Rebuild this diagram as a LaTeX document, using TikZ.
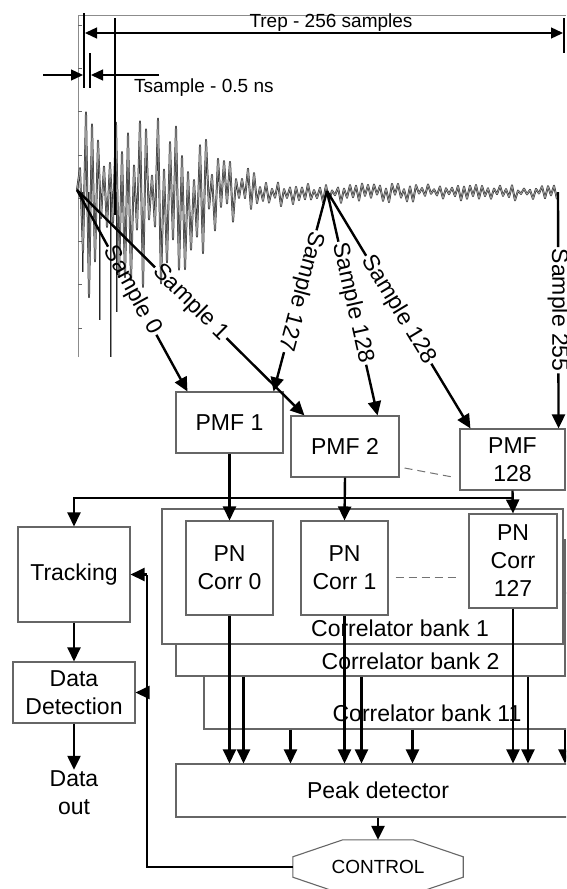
\documentclass[tikz,border=0pt]{standalone}
\usepackage{fontspec}
\setmainfont{Liberation Sans}
\usetikzlibrary{arrows.meta,positioning}

\begin{document}
\begin{tikzpicture}[x=1pt,y=-1pt,
    box/.style={draw=black!60, line width=1.1pt, fill=white, align=center, inner sep=0pt, font=\fontsize{23}{28}\selectfont},
    arr/.style={line width=2.4pt, -{Triangle[length=14pt,width=13pt]}},
    thk/.style={line width=2.4pt},
    dim/.style={line width=1.3pt},
    dimtip/.style={-{Triangle[length=12pt,width=11pt]}},
    wave/.style={draw=black!85, double=black!40, double distance=0.9pt, line width=0.5pt, line join=round},
    smp/.style={font=\fontsize{23}{26}\selectfont, inner sep=1.5pt, sloped, allow upside down},
    toplbl/.style={font=\fontsize{19}{22}\selectfont, inner sep=0pt},
    dsh/.style={draw=black!55, line width=1pt, dash pattern=on 8pt off 5pt}]
    \useasboundingbox (0,0) rectangle (566,889);
    \clip (0,0) rectangle (566,889);

    % Waveform axes
    \draw[black!45, line width=0.8pt] (78,357) -- (78,15) -- (566,15);
    \foreach \k in {0,...,7}
        \draw[black!60, line width=0.8pt] (78,{25+43.3*\k}) -- (82,{25+43.3*\k});

    % Waveform
    \pgfmathsetseed{7}
    \coordinate (s0) at (77,190);
    \coordinate (s127) at (327,191);
    \coordinate (s255) at (558,192);
    \foreach \x/\y in {83/272, 89/275, 100/320, 111/357, 117/312}
        \draw[wave] (\x,192) -- (\x,\y);
    \draw[wave] (s0) \foreach \i in {1,...,160} {
        -- ({77+3*\i},{192+(1.1-2*mod(\i,2))*(7+18*exp(-3*\i/150)+75*exp(-min((3*\i/150)^4,9)))*(0.15+0.85*rnd)})
    };
    \draw[line width=1.5pt] (115,18) -- (115,215);

    % Timing marks
    \draw[dim] (84,13) -- (84,88);
    \draw[dim] (90,53) -- (90,88);
    \draw[dim] (564,18) -- (564,53);
    \draw[dim, {Triangle[length=12pt,width=11pt]}-{Triangle[length=12pt,width=11pt]}] (85,33) -- (563,33);
    \node[toplbl] (trep) at (331,23) {Trep - 256 samples};
    \draw[dim, dimtip] (43,75) -- (83,75);
    \draw[dim, dimtip] (159,75) -- (91,75);
    \node[toplbl, anchor=west] (tsmp) at (134,88) {Tsample - 0.5 ns};

    % Matched filters
    \node[box, minimum width=107pt, minimum height=61pt] (pmf1) at (229.5,422.5) {PMF 1};
    \node[box, minimum width=108pt, minimum height=61pt] (pmf2) at (345,446.5) {PMF 2};
    \node[box, minimum width=105pt, minimum height=61pt] (pmf128) at (512.5,459.5) {PMF\\128};
    \draw[dsh] ([shift={(5pt,-21.5pt)}]pmf2.east) -- ([shift={(-7pt,-17.5pt)}]pmf128.west);

    % Sample taps
    \coordinate (t0) at ([xshift=12pt]pmf1.north west);
    \coordinate (t1) at ([xshift=14pt]pmf2.north west);
    \coordinate (t2) at ([xshift=-10pt]pmf1.north east);
    \coordinate (t3) at ([xshift=-22pt]pmf2.north east);
    \coordinate (t4) at ([xshift=11pt]pmf128.north west);
    \coordinate (t5) at ([xshift=-7pt]pmf128.north east);
    \foreach \src/\dst/\txt/\nm in {s0/t0/Sample 0/a, s0/t1/Sample 1/b, s127/t2/Sample 127/c,
                                     s127/t3/Sample 128/d, s127/t4/Sample 128/e, s255/t5/Sample 255/f} {
        \path (\src) -- node[smp] (l\nm) {\txt} (\dst);
        \draw[thk] (\src) -- (l\nm.west);
        \draw[arr] (l\nm.east) -- (\dst);
    }

    % Correlator banks
    \node[box, minimum width=396pt, minimum height=136pt] (bank11) at (402,661) {};
    \node[toplbl, font=\fontsize{23}{26}\selectfont] (b11lbl) at ([shift={(25pt,16pt)}]bank11.south) {Correlator bank 11};
    \node[box, minimum width=389pt, minimum height=136pt] (bank2) at (370.5,608) {};
    \node[toplbl, font=\fontsize{23}{26}\selectfont] (b2lbl) at ([shift={(40pt,15pt)}]bank2.south) {Correlator bank 2};
    \node[box, minimum width=401pt, minimum height=135pt] (bank1) at (362.5,576.5) {};
    \node[toplbl, font=\fontsize{23}{26}\selectfont] (b1lbl) at ([shift={(37.5pt,16pt)}]bank1.south) {Correlator bank 1};

    \node[box, minimum width=87pt, minimum height=94pt] (corr0) at (229.5,568) {PN\\Corr 0};
    \node[box, minimum width=87pt, minimum height=94pt] (corr1) at (344.5,568) {PN\\Corr 1};
    \node[box, minimum width=88pt, minimum height=94pt] (corr127) at (513,561) {PN\\Corr\\127};
    \draw[dsh] ([shift={(7pt,-9pt)}]corr1.east) -- ([shift={(-9pt,-16pt)}]corr127.west);

    % Tracking side
    \node[box, minimum width=112pt, minimum height=95pt] (trk) at (74,574.5) {Tracking};
    \node[box, minimum width=122pt, minimum height=61pt] (dd) at (74,692.5) {Data\\Detection};
    \node[align=center, inner sep=1pt, font=\fontsize{23}{28}\selectfont] (out) at (74,793) {Data\\out};

    % Peak detector and control
    \node[box, minimum width=404pt, minimum height=53pt] (peak) at (378,790.5) {Peak detector};
    \node[toplbl, minimum width=170pt, minimum height=54pt] (ctrl) at (378,867) {CONTROL};
    \draw[draw=black!60, line width=1.1pt] ([xshift=50pt]ctrl.north west) -- ([xshift=-50pt]ctrl.north east)
        -- ([yshift=-17pt]ctrl.north east) -- ([yshift=17pt]ctrl.south east) -- ([xshift=-50pt]ctrl.south east)
        -- ([xshift=50pt]ctrl.south west) -- ([yshift=17pt]ctrl.south west) -- ([yshift=-17pt]ctrl.north west) -- cycle;

    % Connections
    \draw[arr] (pmf1.south) -- (corr0.north);
    \draw[arr] (pmf2.south) -- (corr1.north);
    \draw[arr] (pmf128.south) -- (corr127.north);
    \coordinate (bus) at (pmf128.south |- 0,498);
    \draw[arr] (bus) -| (trk.north);
    \foreach \c/\b/\d in {corr0/14/61, corr1/17/68, corr127/15/52} {
        \path ([xshift=\b pt]\c.south) coordinate (cb) ([xshift=\d pt]\c.south) coordinate (cd);
        \draw[arr] (\c.south) -- (\c.south |- peak.north);
        \draw[arr] (cb |- bank2.south) -- (cb |- peak.north);
        \draw[arr] (cd |- bank11.south) -- (cd |- peak.north);
    }
    \draw[arr] (trk.south) -- (dd.north);
    \draw[arr] (dd.south) -- (out.north);
    \draw[arr] (peak.south) -- (ctrl.north);
    \coordinate (fb) at (147,0);
    \draw[thk] (ctrl.west) -| (fb |- trk.east);
    \draw[arr] (fb |- trk.east) -- (trk.east);
    \draw[arr] (fb |- dd.east) -- (dd.east);
\end{tikzpicture}
\end{document}
